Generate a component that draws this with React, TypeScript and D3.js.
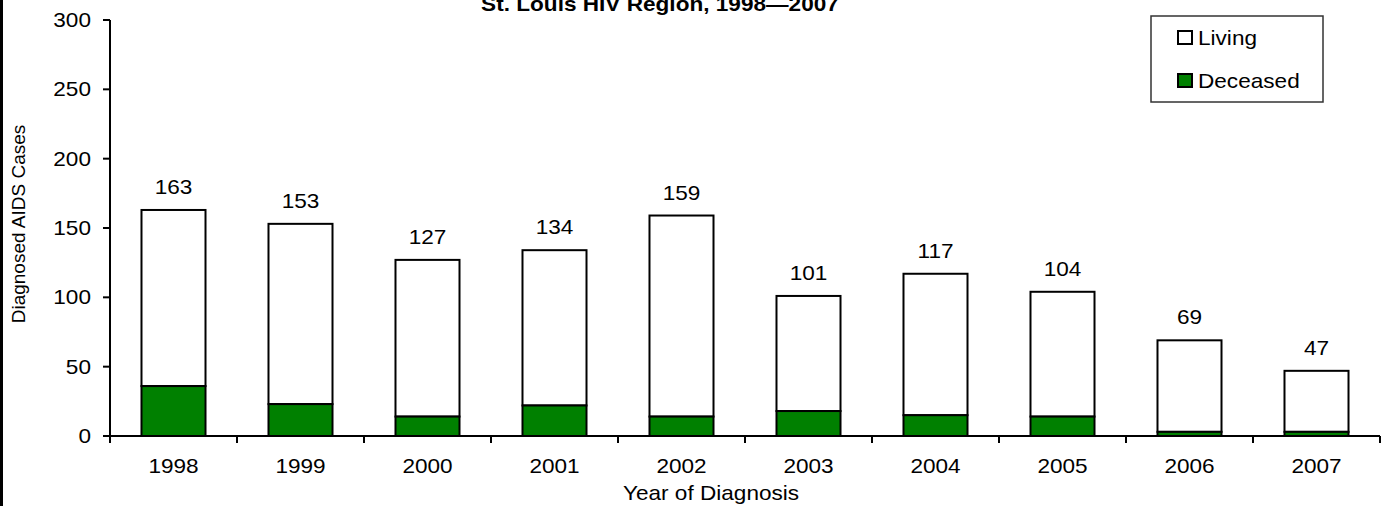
import React, { useEffect, useRef } from "react";
import * as d3 from "d3";

const years = ["1998", "1999", "2000", "2001", "2002", "2003", "2004", "2005", "2006", "2007"];
const totals = [163, 153, 127, 134, 159, 101, 117, 104, 69, 47];
const deceased = [36, 23, 14, 22, 14, 18, 15, 14, 3, 3];
const yTicks = [0, 50, 100, 150, 200, 250, 300];

function App() {
  const svgElemRef = useRef(null);

  useEffect(() => {
    document.body.style.margin = "0";

    let width = 1385;
    let height = 506;
    let margin = { top: 20, left: 110, right: 5, bottom: 70 };
    let sx = 1.13; // text looks horizontally stretched in the original
    let font = "'Liberation Sans', Arial, sans-serif";

    let svg = d3.select(svgElemRef.current).attr("width", width).attr("height", height);
    svg.selectAll("*").remove();

    svg.append("rect").attr("x", 0).attr("y", 0).attr("width", width).attr("height", height).attr("fill", "#fff");
    svg.append("rect").attr("x", 0).attr("y", 0).attr("width", 3).attr("height", height).attr("fill", "#000");

    let x = d3
      .scaleBand()
      .domain(years)
      .range([margin.left, width - margin.right])
      .paddingInner(0.496)
      .paddingOuter(0.248);

    let y = d3
      .scaleLinear()
      .domain([0, 300])
      .range([height - margin.bottom, margin.top]);

    let hText = (g, tx, ty, str, anchor, size, weight) =>
      g
        .append("text")
        .attr("transform", `translate(${tx},${ty}) scale(${sx},1)`)
        .attr("text-anchor", anchor)
        .attr("font-family", font)
        .attr("font-size", size)
        .attr("font-weight", weight || "normal")
        .attr("fill", "#000")
        .text(str);

    // title (cut off at the top in the original)
    hText(svg, 660, 11, "St. Louis HIV Region, 1998\u20142007", "middle", 20, "bold");

    // bars
    let bars = svg.append("g");
    years.forEach((yr, i) => {
      bars
        .append("rect")
        .attr("x", x(yr))
        .attr("y", y(totals[i]))
        .attr("width", x.bandwidth())
        .attr("height", y(deceased[i]) - y(totals[i]))
        .attr("fill", "#fff")
        .attr("stroke", "#000")
        .attr("stroke-width", 2);
      bars
        .append("rect")
        .attr("x", x(yr))
        .attr("y", y(deceased[i]))
        .attr("width", x.bandwidth())
        .attr("height", y(0) - y(deceased[i]))
        .attr("fill", "#008000")
        .attr("stroke", "#000")
        .attr("stroke-width", 2);
      hText(bars, x(yr) + x.bandwidth() / 2, y(totals[i]) - 16, String(totals[i]), "middle", 20);
    });

    // y axis
    let ya = svg.append("g");
    ya.append("line")
      .attr("x1", margin.left).attr("x2", margin.left)
      .attr("y1", y(300)).attr("y2", y(0))
      .attr("stroke", "#000").attr("stroke-width", 2);
    yTicks.forEach((t) => {
      ya.append("line")
        .attr("x1", margin.left - 7).attr("x2", margin.left)
        .attr("y1", y(t)).attr("y2", y(t))
        .attr("stroke", "#000").attr("stroke-width", 2);
      hText(ya, margin.left - 19, y(t) + 7, String(t), "end", 20);
    });

    // x axis
    let xa = svg.append("g");
    xa.append("line")
      .attr("x1", margin.left).attr("x2", width - margin.right)
      .attr("y1", y(0)).attr("y2", y(0))
      .attr("stroke", "#000").attr("stroke-width", 2);
    let edges = years.map((yr) => x(yr) - (x.step() - x.bandwidth()) / 2);
    edges.push(width - margin.right);
    edges.forEach((e) => {
      xa.append("line")
        .attr("x1", e).attr("x2", e)
        .attr("y1", y(0)).attr("y2", y(0) + 7)
        .attr("stroke", "#000").attr("stroke-width", 2);
    });
    years.forEach((yr) => {
      hText(xa, x(yr) + x.bandwidth() / 2, y(0) + 37, yr, "middle", 20);
    });

    // axis labels
    hText(svg, 711, 500, "Year of Diagnosis", "middle", 20);
    svg
      .append("text")
      .attr("transform", `translate(25, 224) rotate(-90)`)
      .attr("text-anchor", "middle")
      .attr("font-family", font)
      .attr("font-size", 19)
      .attr("fill", "#000")
      .text("Diagnosed AIDS Cases");

    // legend
    let lg = svg.append("g");
    lg.append("rect")
      .attr("x", 1151).attr("y", 16).attr("width", 172).attr("height", 86)
      .attr("fill", "#fff").attr("stroke", "#333").attr("stroke-width", 1.5);
    let items = [
      { label: "Living", fill: "#fff", yy: 31 },
      { label: "Deceased", fill: "#008000", yy: 74 },
    ];
    items.forEach((d) => {
      lg.append("rect")
        .attr("x", 1178).attr("y", d.yy).attr("width", 14).attr("height", 13)
        .attr("fill", d.fill).attr("stroke", "#000").attr("stroke-width", 2);
      hText(lg, 1198, d.yy + 14, d.label, "start", 20);
    });
  }, []);

  return (
    <div>
      <svg ref={svgElemRef} style={{ display: "block" }}></svg>
    </div>
  );
}

export default App;
